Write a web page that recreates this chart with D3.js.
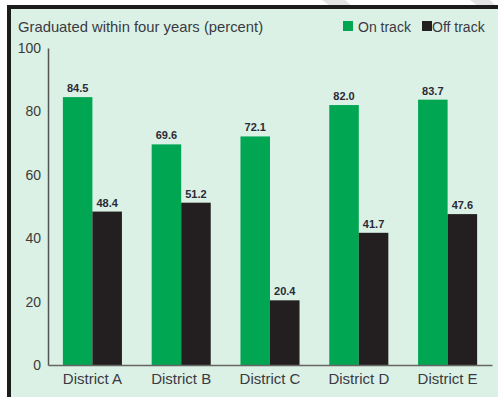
<!DOCTYPE html>
<html>
<head>
<meta charset="utf-8">
<script src="https://cdn.jsdelivr.net/npm/d3@7"></script>
<style>
  html, body { margin: 0; padding: 0; background: #fff; }
  svg { display: block; }
  text { font-family: "Liberation Sans", Arial, sans-serif; }
</style>
</head>
<body>
<svg id="chart"></svg>
<script>
// data
const districts = ["District A", "District B", "District C", "District D", "District E"];
const onTrack = [84.5, 69.6, 72.1, 82.0, 83.7];
const offTrack = [48.4, 51.2, 20.4, 41.7, 47.6];
const seriesNames = ["On track", "Off track"];
const yTicks = [0, 20, 40, 60, 80, 100];

const W = 498, H = 397;
const colors = { "On track": "#00a651", "Off track": "#231f20" };

const svg = d3.select("#chart").attr("width", W).attr("height", H);

// faint scan streaks above the frame
svg.append("path").attr("d", "M322,0 L345,0 L352,6 L330,6 Z").attr("fill", "#e4e4e4");
svg.append("path").attr("d", "M470,0 L490,0 L496,6 L478,6 Z").attr("fill", "#e4e4e4");

// framed panel
svg.append("rect")
  .attr("x", 9).attr("y", 7)
  .attr("width", W + 10).attr("height", H + 10)
  .attr("fill", "#dbf1e5")
  .attr("stroke", "#1c1c1c")
  .attr("stroke-width", 4);

const x0 = d3.scaleBand()
  .domain(districts)
  .range([48, 492])
  .paddingInner(0.335)
  .paddingOuter(0.1675);

const x1 = d3.scaleBand()
  .domain(seriesNames)
  .range([0, x0.bandwidth()]);

const y = d3.scaleLinear()
  .domain([0, 100])
  .range([365, 48]);

const rows = districts.map((d, i) => ({
  district: d,
  values: [
    { key: "On track", value: onTrack[i] },
    { key: "Off track", value: offTrack[i] }
  ]
}));

const groups = svg.append("g").selectAll("g")
  .data(rows)
  .enter()
  .append("g")
  .attr("transform", d => "translate(" + x0(d.district) + ",0)");

groups.selectAll("rect")
  .data(d => d.values)
  .enter()
  .append("rect")
  .attr("x", d => x1(d.key))
  .attr("y", d => y(d.value))
  .attr("width", x1.bandwidth())
  .attr("height", d => y(0) - y(d.value))
  .attr("fill", d => colors[d.key]);

groups.selectAll("text")
  .data(d => d.values)
  .enter()
  .append("text")
  .attr("x", d => x1(d.key) + x1.bandwidth() / 2)
  .attr("y", d => y(d.value) - 5)
  .attr("text-anchor", "middle")
  .attr("font-size", "11px")
  .attr("font-weight", "bold")
  .attr("fill", "#2a2a36")
  .text(d => d.value.toFixed(1));

// y axis (no tick marks, just labels)
const yAxis = svg.append("g")
  .attr("transform", "translate(48,0)")
  .call(d3.axisLeft(y).tickValues(yTicks).tickSize(0).tickPadding(7));
yAxis.select(".domain").attr("stroke", "#555").attr("stroke-width", 1.5);
yAxis.selectAll("text")
  .attr("font-size", "14px")
  .attr("font-family", "Liberation Sans, Arial, sans-serif")
  .attr("fill", "#3a3a3a");

// x axis
const xAxis = svg.append("g")
  .attr("transform", "translate(0,365)")
  .call(d3.axisBottom(x0).tickSize(0).tickPadding(8).tickSizeOuter(0));
xAxis.select(".domain").attr("stroke", "#666").attr("stroke-width", 1.5);
xAxis.selectAll("text")
  .attr("font-size", "15px")
  .attr("font-family", "Liberation Sans, Arial, sans-serif")
  .attr("fill", "#3a3a44");

// title
svg.append("text")
  .attr("x", 18).attr("y", 32)
  .attr("font-size", "14.8px")
  .attr("fill", "#3a3a44")
  .text("Graduated within four years (percent)");

// legend
const legendX = [343, 422];
const legend = svg.append("g").selectAll("g")
  .data(seriesNames)
  .enter()
  .append("g")
  .attr("transform", (d, i) => "translate(" + legendX[i] + ",21)");
legend.append("rect")
  .attr("width", 10).attr("height", 10)
  .attr("fill", d => colors[d]);
legend.append("text")
  .attr("x", (d, i) => i === 0 ? 15 : 10)
  .attr("y", 10.5)
  .attr("font-size", "14px")
  .attr("fill", "#3a3a44")
  .text(d => d);
</script>
</body>
</html>
